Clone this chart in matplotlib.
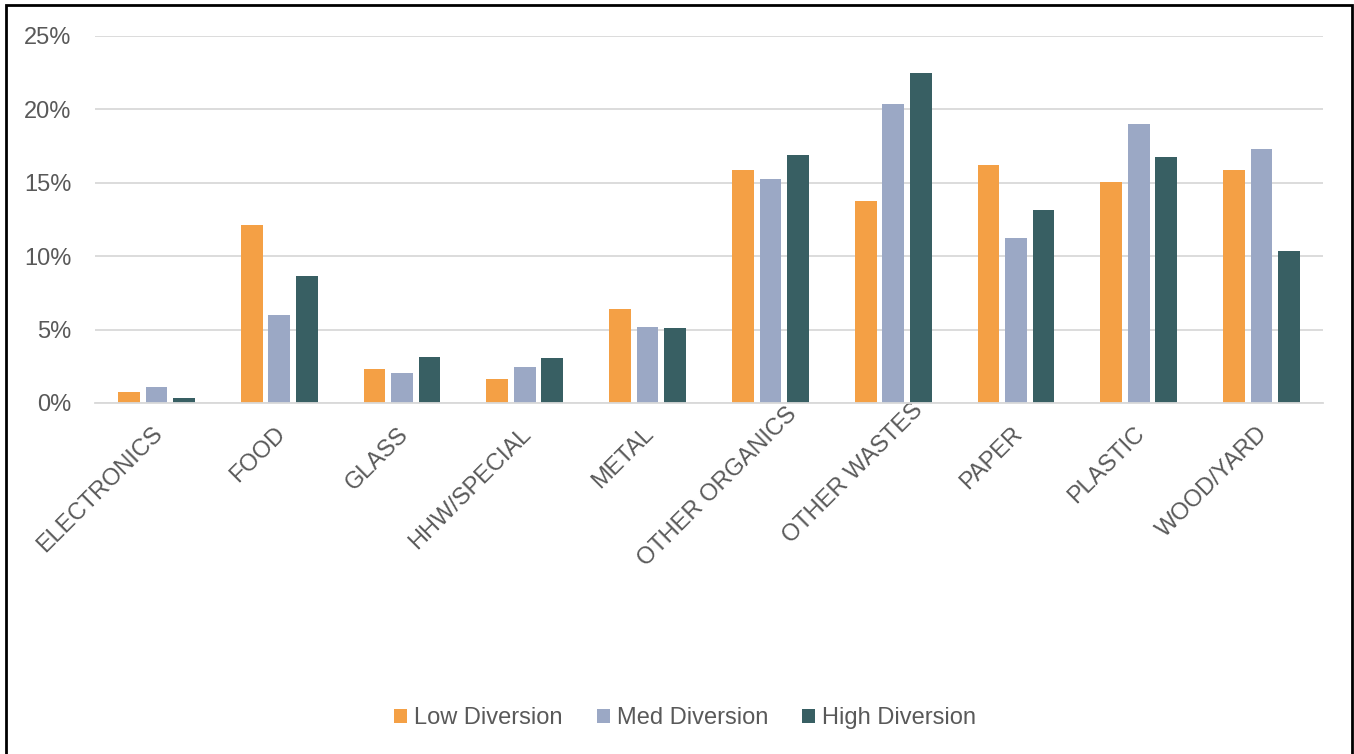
import matplotlib
matplotlib.use("Agg")
import matplotlib.pyplot as plt
from matplotlib.patches import Patch, Rectangle
from matplotlib.ticker import FuncFormatter
import numpy as np

categories = ["ELECTRONICS", "FOOD", "GLASS", "HHW/SPECIAL", "METAL",
              "OTHER ORGANICS", "OTHER WASTES", "PAPER", "PLASTIC", "WOOD/YARD"]
low_diversion = [0.75, 12.11, 2.30, 1.64, 6.39, 15.86, 13.73, 16.23, 15.05, 15.86]
med_diversion = [1.11, 6.00, 2.07, 2.45, 5.16, 15.25, 20.36, 11.23, 18.98, 17.32]
high_diversion = [0.36, 8.66, 3.14, 3.07, 5.11, 16.89, 22.50, 13.14, 16.73, 10.36]
series_names = ["Low Diversion", "Med Diversion", "High Diversion"]
y_ticks = [0, 5, 10, 15, 20, 25]

colors = ["#F4A045", "#9BA8C5", "#385F63"]
text_color = "#595959"
grid_color = "#D9D9D9"

plt.rcParams['font.family'] = ['Liberation Sans', 'DejaVu Sans']

W, H = 1354, 754
fig = plt.figure(figsize=(W / 100, H / 100), dpi=100)
ax_l, ax_r, ax_t, ax_b = 95, 1323, 36, 403
ax = fig.add_axes([ax_l / W, 1 - ax_b / H, (ax_r - ax_l) / W, (ax_b - ax_t) / H])

x = np.arange(len(categories))
bw = 0.177
step = 0.224
for i, (vals, c) in enumerate(zip([low_diversion, med_diversion, high_diversion], colors)):
    ax.bar(x + (i - 1) * step, vals, width=bw, color=c, zorder=3, linewidth=0)

ax.set_xlim(-0.5, len(categories) - 0.5)
ax.set_ylim(0, 25)
ax.set_yticks(y_ticks)
ax.yaxis.set_major_formatter(FuncFormatter(lambda v, p: f"{v:.0f}%"))
ax.grid(axis='y', color=grid_color, linewidth=1.3, zorder=0)
for s in ['top', 'right', 'left']:
    ax.spines[s].set_visible(False)
ax.spines['bottom'].set_color(grid_color)
ax.spines['bottom'].set_linewidth(1.3)
ax.spines['bottom'].set_zorder(4)
ax.tick_params(axis='y', length=0, pad=17, labelsize=17, labelcolor=text_color)
ax.tick_params(axis='x', length=0)
ax.set_xticks(x)
ax.set_xticklabels([])

# rotated category labels, long ones nudged along the text direction
shift = {5: 32, 6: 38}
for i, lab in enumerate(categories):
    d = shift.get(i, 4)
    ax.annotate(lab, xy=(x[i], 0), xycoords='data',
                xytext=(d * 0.707 * 0.72, -22 + d * 0.707 * 0.72), textcoords='offset points',
                rotation=45, rotation_mode='anchor', ha='right', va='center',
                fontsize=17, color=text_color)

handles = [Patch(facecolor=c, edgecolor='none') for c in colors]
fig.legend(handles, series_names, loc='center', bbox_to_anchor=(685 / W, 1 - 718 / H),
           ncol=3, frameon=False, fontsize=17, labelcolor=text_color,
           handlelength=0.55, handleheight=0.55, handletextpad=0.3, columnspacing=1.45)

fig.patches.append(Rectangle((6 / W, -0.01), (1352 - 6) / W, 1 - 5 / H + 0.01,
                             transform=fig.transFigure, fill=False,
                             edgecolor='black', linewidth=2))

fig.savefig("out.png", dpi=100, facecolor='white')
